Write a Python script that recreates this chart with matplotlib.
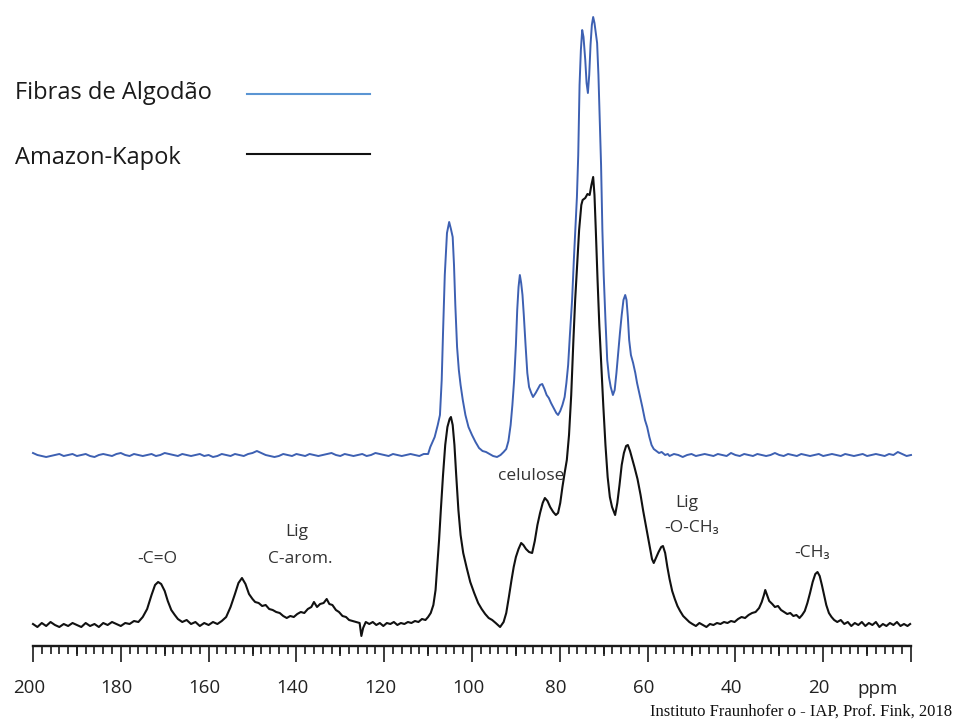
import matplotlib
matplotlib.use('Agg')
import matplotlib.pyplot as plt
from matplotlib.lines import Line2D
from matplotlib.ticker import MultipleLocator
from matplotlib.transforms import ScaledTranslation

plt.rcParams['font.family'] = ['Open Sans', 'DejaVu Sans']

# ---------------- data ----------------
series_names = ['Fibras de Algodão', 'Amazon-Kapok']

major_ticks = [200, 180, 160, 140, 120, 100, 80, 60, 40, 20, 0]
major_labels = ['200', '180', '160', '140', '120', '100', '80', '60', '40', '20', '']
medium_ticks = [190, 170, 150, 130, 110, 90, 70, 50, 30, 10]

# Cotton fibres (blue): baseline 200..110 ppm (1 ppm grid), peak region, baseline 55..0 ppm
cotton_base_left_ppm = list(range(200, 109, -1))
cotton_base_left = [2, 0, -1, -2, -1, 0, 1, -1, 0, 1, -1, 0, 1, -1, -2, 0, 1, 0, -1, 1,
                    2, 0, -1, 1, 0, -1, 0, 1, -1, 0, 2, 1, 0, -1, 1, 0, -1, 0, 1, -1,
                    0, -2, -1, 1, 0, -1, 1, 0, -1, 1, 2, 4, 2, 0, -1, -2, -1, 1, 0, -1,
                    1, 0, -1, 1, 0, -1, 0, 1, 2, 0, -1, 1, 0, -1, 0, 1, -1, 0, 2, 1,
                    0, -1, 1, 0, -1, 0, 1, 0, -1, 1, 1]
cotton_peaks = [(109.5, 8), (108.5, 18), (107.8, 30), (107.3, 40), (106.9, 75), (106.6, 122),
                (106.2, 180), (105.7, 222), (105.2, 233), (104.8, 226), (104.4, 218), (104.1, 190),
                (103.8, 150), (103.4, 108), (103.0, 85), (102.6, 70), (102.1, 55), (101.5, 40),
                (100.8, 28), (100.0, 20), (99.2, 13), (98.4, 7), (97.6, 4), (96.8, 3), (96.0, 1),
                (95.2, -1), (94.3, -2), (93.5, 0), (92.8, 3), (92.2, 6), (91.7, 14), (91.2, 30),
                (90.8, 50), (90.4, 75), (90.0, 110), (89.7, 145), (89.4, 168), (89.1, 180),
                (88.8, 172), (88.5, 160), (88.2, 140), (87.8, 110), (87.4, 82), (87.0, 68),
                (86.5, 62), (86.1, 58), (85.5, 62), (85.0, 66), (84.5, 70), (84.0, 71), (83.5, 66),
                (83.0, 60), (82.5, 57), (82.0, 52), (81.4, 47), (80.8, 42), (80.4, 40), (79.9, 44),
                (79.4, 50), (78.9, 58), (78.5, 72), (78.1, 90), (77.7, 120), (77.2, 155),
                (76.8, 195), (76.4, 232), (76.1, 258), (75.8, 300), (75.5, 370), (75.2, 405),
                (74.9, 425), (74.6, 418), (74.2, 395), (73.9, 372), (73.6, 362), (73.3, 380),
                (73.0, 410), (72.7, 430), (72.4, 438), (72.1, 432), (71.8, 422), (71.5, 412),
                (71.2, 380), (70.9, 335), (70.6, 290), (70.3, 225), (70.0, 180), (69.6, 135),
                (69.2, 95), (68.8, 78), (68.4, 68), (67.9, 60), (67.5, 65), (67.1, 82), (66.7, 102),
                (66.3, 122), (65.9, 140), (65.5, 155), (65.1, 160), (64.8, 155), (64.5, 138),
                (64.2, 115), (63.8, 100), (63.3, 92), (62.8, 82), (62.4, 72), (61.8, 60),
                (61.2, 48), (60.6, 35), (60.1, 28), (59.6, 18), (59.1, 10), (58.6, 6), (58.0, 4),
                (57.4, 2), (56.8, 3), (56.0, 0), (55.4, 1)]
cotton_base_right_ppm = list(range(55, -1, -1))
cotton_base_right = [-1, 1, 0, -2, 0, 1, -1, 0, 1, 0, -1, 1, 0, -1, 2, 0, -1, 1, 0, -1,
                     1, 0, -1, 0, 2, 0, -1, 1, 0, -1, 1, 0, -1, 0, 1, -1, 0, 1, 0, -1,
                     1, 0, -1, 0, 1, -1, 0, 1, 0, -1, 1, 0, 3, 1, -1, 0]

# Amazon kapok (black)
kapok_points = [(200, 1), (199, -2), (198, 2), (197, -1), (196, 3), (195, 0), (194, -2), (193, 1),
                (192, -1), (191, 2), (190, 0), (189, -2), (188, 2), (187, -1), (186, 1), (185, -2),
                (184, 2), (183, 0), (182, 3), (181, 1), (180, -1), (179, 2), (178, 1), (177, 4),
                (176, 3), (175, 8), (174, 16), (173, 30), (172.2, 40), (171.5, 43), (170.8, 41),
                (170, 34), (169.3, 24), (168.5, 15), (167.7, 10), (167, 6), (166, 3), (165, 5),
                (164, 1), (163, 3), (162, -1), (161, 2), (160, 0), (159, 3), (158, 1), (157, 4),
                (156, 8), (155, 18), (154, 31), (153.2, 42), (152.4, 47), (151.6, 41), (150.8, 31),
                (150, 26), (149.4, 23), (148.6, 22), (147.8, 19), (147, 20), (146.2, 16),
                (145.4, 15), (144.6, 13), (143.8, 12), (143, 9), (142.2, 7), (141.4, 9),
                (140.6, 8), (139.8, 11), (139, 13), (138.2, 12), (137.4, 16), (136.6, 18),
                (136, 23), (135.3, 18), (134.6, 21), (133.8, 22), (133.1, 26), (132.5, 21),
                (131.8, 20), (131, 15), (130.3, 13), (129.5, 9), (128.7, 8), (128, 5), (127.2, 4),
                (126.4, 3), (125.6, 2), (125.2, -11), (124.8, -3), (124.2, 3), (123.4, 1),
                (122.6, 3), (121.8, 0), (121, 2), (120.2, -1), (119.4, 2), (118.6, 1), (117.8, 3),
                (117, 0), (116.2, 2), (115.4, 1), (114.6, 3), (113.8, 2), (113, 4), (112.2, 3),
                (111.4, 6), (110.6, 5), (110, 8), (109.4, 12), (108.8, 20), (108.3, 35),
                (107.9, 60), (107.5, 85), (107.1, 115), (106.6, 150), (106.1, 180), (105.6, 198),
                (105.1, 206), (104.8, 208), (104.4, 200), (104, 180), (103.6, 150), (103.1, 115),
                (102.6, 90), (102, 72), (101.2, 57), (100.4, 43), (99.5, 32), (98.6, 22),
                (97.8, 16), (97, 11), (96.2, 7), (95.4, 5), (94.6, 2), (93.6, -2), (92.8, 3),
                (92.2, 12), (91.6, 28), (91, 45), (90.5, 58), (90, 68), (89.4, 76), (88.8, 82),
                (88.3, 80), (87.7, 76), (87, 73), (86.3, 72), (85.7, 84), (85.1, 100), (84.5, 112),
                (83.9, 122), (83.4, 127), (82.8, 124), (82.2, 118), (81.5, 113), (80.9, 110),
                (80.4, 112), (79.9, 122), (79.4, 138), (78.9, 152), (78.4, 165), (77.9, 190),
                (77.4, 230), (76.9, 285), (76.5, 325), (76, 365), (75.6, 395), (75.1, 420),
                (74.8, 425), (74.2, 427), (73.7, 431), (73.2, 430), (72.8, 440), (72.4, 448),
                (72.1, 430), (71.8, 395), (71.4, 345), (71, 300), (70.5, 255), (70.1, 220),
                (69.6, 180), (69.1, 148), (68.6, 128), (68.1, 118), (67.4, 110), (66.9, 122),
                (66.4, 140), (65.9, 160), (65.4, 172), (64.9, 179), (64.5, 180), (64, 174),
                (63.5, 166), (63, 158), (62.3, 146), (61.6, 130), (61, 114), (60.3, 97),
                (59.6, 80), (59, 66), (58.6, 62), (58.1, 67), (57.5, 73), (56.9, 78), (56.5, 79),
                (56, 72), (55.5, 58), (55, 46), (54.4, 34), (53.8, 26), (53.2, 19), (52.6, 14),
                (51.9, 9), (51.2, 6), (50.5, 3), (49.8, 1), (49, -1), (48.2, 2), (47.4, 0),
                (46.6, -2), (45.8, 1), (45, 0), (44.2, 2), (43.4, 1), (42.6, 3), (41.8, 2),
                (41, 4), (40.2, 3), (39.4, 6), (38.6, 8), (37.8, 7), (37, 10), (36.2, 12),
                (35.4, 13), (34.6, 17), (34, 23), (33.5, 30), (33.2, 35), (32.8, 30), (32.3, 24),
                (31.6, 21), (31, 18), (30.3, 19), (29.6, 15), (28.9, 13), (28.2, 11), (27.5, 12),
                (26.8, 9), (26.1, 10), (25.4, 7), (24.8, 10), (24.2, 14), (23.6, 22), (23, 32),
                (22.4, 43), (21.8, 51), (21.3, 53), (20.8, 49), (20.3, 40), (19.8, 30), (19.3, 20),
                (18.7, 12), (18.1, 8), (17.5, 5), (16.8, 3), (16, 5), (15.2, 1), (14.4, 3),
                (13.6, -1), (12.8, 2), (12, 0), (11.2, 3), (10.4, -1), (9.6, 2), (8.8, 0), (8, 3),
                (7.2, -2), (6.4, 1), (5.6, -1), (4.8, 2), (4, 0), (3.2, 3), (2.4, -1), (1.6, 1),
                (0.8, -1), (0.2, 1)]

cotton_offset = 170  # vertical stacking of the upper trace

# ---------------- assemble series ----------------
cotton_ppm = cotton_base_left_ppm + [p for p, _ in cotton_peaks] + cotton_base_right_ppm
cotton_int = cotton_base_left + [v for _, v in cotton_peaks] + cotton_base_right
kapok_ppm = [p for p, _ in kapok_points]
kapok_int = [v for _, v in kapok_points]

W, H = 955, 724
fig = plt.figure(figsize=(W / 100, H / 100), dpi=100)
ax = fig.add_axes([33 / W, 78 / H, 878 / W, 646 / H])
ax.set_xlim(200, 0)
ax.set_ylim(-21, 625)

blue_trace = '#3d60b2'
ax.plot(cotton_ppm, [v + cotton_offset for v in cotton_int], color=blue_trace, lw=1.4,
        solid_joinstyle='round', clip_on=False)
ax.plot(kapok_ppm, kapok_int, color='#111111', lw=1.5, solid_joinstyle='round', clip_on=False)

for s in ('top', 'left', 'right'):
    ax.spines[s].set_visible(False)
ax.spines['bottom'].set_linewidth(1.7)
ax.spines['bottom'].set_color('#1a1a1a')
ax.set_yticks([])

ax.set_xticks(major_ticks)
ax.set_xticklabels(major_labels)
ax.xaxis.set_minor_locator(MultipleLocator(2))
ax.tick_params(axis='x', which='major', direction='out', length=11.5, width=1.2,
               color='#1a1a1a', pad=12, labelsize=13.5, labelcolor='#222222')
ax.tick_params(axis='x', which='minor', direction='out', length=6, width=1.2, color='#1a1a1a')

sec = ax.secondary_xaxis('bottom')
sec.set_xticks(medium_ticks)
sec.tick_params(axis='x', direction='out', length=7.5, width=1.2, color='#1a1a1a',
                labelbottom=False)
sec.spines['bottom'].set_visible(False)

shift = ScaledTranslation(-4 / 100, 0, fig.dpi_scale_trans)
for lab in ax.get_xticklabels():
    lab.set_transform(lab.get_transform() + shift)


def px(x, y):
    return x / W, 1 - y / H


# legend (labels on the left, line samples on the right)
legend_colors = ['#5b95d3', '#111111']
legend_rows = [(99, 94), (164, 154)]
for name, col, (ybase, yline) in zip(series_names, legend_colors, legend_rows):
    fig.text(*px(15, ybase), name, fontsize=17, color='#1a1a1a', va='baseline', ha='left')
    x0, y0 = px(247, yline)
    x1, _ = px(370, yline)
    fig.add_artist(Line2D([x0, x1], [y0, y0], transform=fig.transFigure, color=col, lw=1.5))

# peak annotations
ann_color = '#333333'
annotations = [('-C=O', 157, 563), ('Lig', 297, 536), ('C-arom.', 300, 563),
               ('celulose', 531, 480), ('Lig', 687, 507), ('-O-CH₃', 692, 532),
               ('-CH₃', 812, 557)]
for txt, x, y in annotations:
    fig.text(*px(x, y), txt, fontsize=12.5, color=ann_color, ha='center', va='baseline')

fig.text(*px(878, 694), 'ppm', fontsize=13.5, color='#222222', ha='center', va='baseline')
fig.text(*px(952, 716), 'Instituto Fraunhofer o - IAP, Prof. Fink, 2018', fontsize=12,
         family='Liberation Serif', color='#111111', ha='right', va='baseline')

fig.savefig('out.png', dpi=100, facecolor='white')
